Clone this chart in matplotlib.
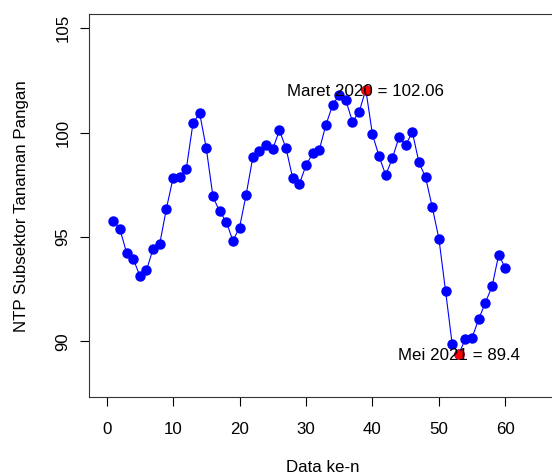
import matplotlib
matplotlib.use("Agg")
import matplotlib.pyplot as plt

plt.rcParams['font.family'] = ['Liberation Sans', 'DejaVu Sans']

# nilai NTP subsektor tanaman pangan, data ke-1 .. ke-60
ntp = [95.78, 95.38, 94.25, 93.96, 93.14, 93.40, 94.44, 94.68, 96.36, 97.82,
       97.87, 98.27, 100.45, 100.93, 99.25, 96.94, 96.22, 95.74, 94.82, 95.45,
       97.03, 98.81, 99.10, 99.39, 99.21, 100.11, 99.25, 97.82, 97.53, 98.43,
       99.00, 99.17, 100.37, 101.31, 101.81, 101.55, 100.51, 100.99, 102.06, 99.92,
       98.86, 97.97, 98.77, 99.78, 99.39, 100.03, 98.57, 97.85, 96.43, 94.92,
       92.42, 89.87, 89.40, 90.13, 90.18, 91.07, 91.86, 92.63, 94.15, 93.50]
idx = list(range(1, len(ntp) + 1))

# titik maksimum dan minimum
titik_idx = [39, 53]
titik_label = ["Maret 2020", "Mei 2021"]

fs = 12.2

fig = plt.figure(figsize=(5.52, 4.75), dpi=100)
ax = fig.add_axes([0.1618, 0.1636, 0.8452, 0.8069])

ax.plot(idx, ntp, color='blue', linewidth=0.8, marker='o', markersize=6.5,
        markerfacecolor='blue', markeredgecolor='blue', zorder=2)

for i, lab in zip(titik_idx, titik_label):
    v = ntp[i - 1]
    ax.plot(i, v, 'o', color='red', markersize=6.5, zorder=3)
    ax.text(i, v, f"{lab} = {v:g}", ha='center', va='center_baseline',
            fontsize=fs, color='black', zorder=4)

ax.set_xlim(-2.6, 67.6)
ax.set_ylim(87.32, 105.68)
ax.set_xticks([0, 10, 20, 30, 40, 50, 60])
ax.set_yticks([90, 95, 100, 105])
ax.tick_params(axis='both', length=6.5, width=0.8, labelsize=fs)
ax.tick_params(axis='x', pad=11)
ax.tick_params(axis='y', pad=7)
for lab in ax.get_yticklabels():
    lab.set_rotation(90)
    lab.set_va('center')
for s in ax.spines.values():
    s.set_linewidth(0.8)
    s.set_color('#333333')

ax.set_xlabel("Data ke-n", fontsize=fs, labelpad=17)
ax.set_ylabel("NTP Subsektor Tanaman Pangan", fontsize=fs, labelpad=19)

plt.savefig("out.png", dpi=100)
